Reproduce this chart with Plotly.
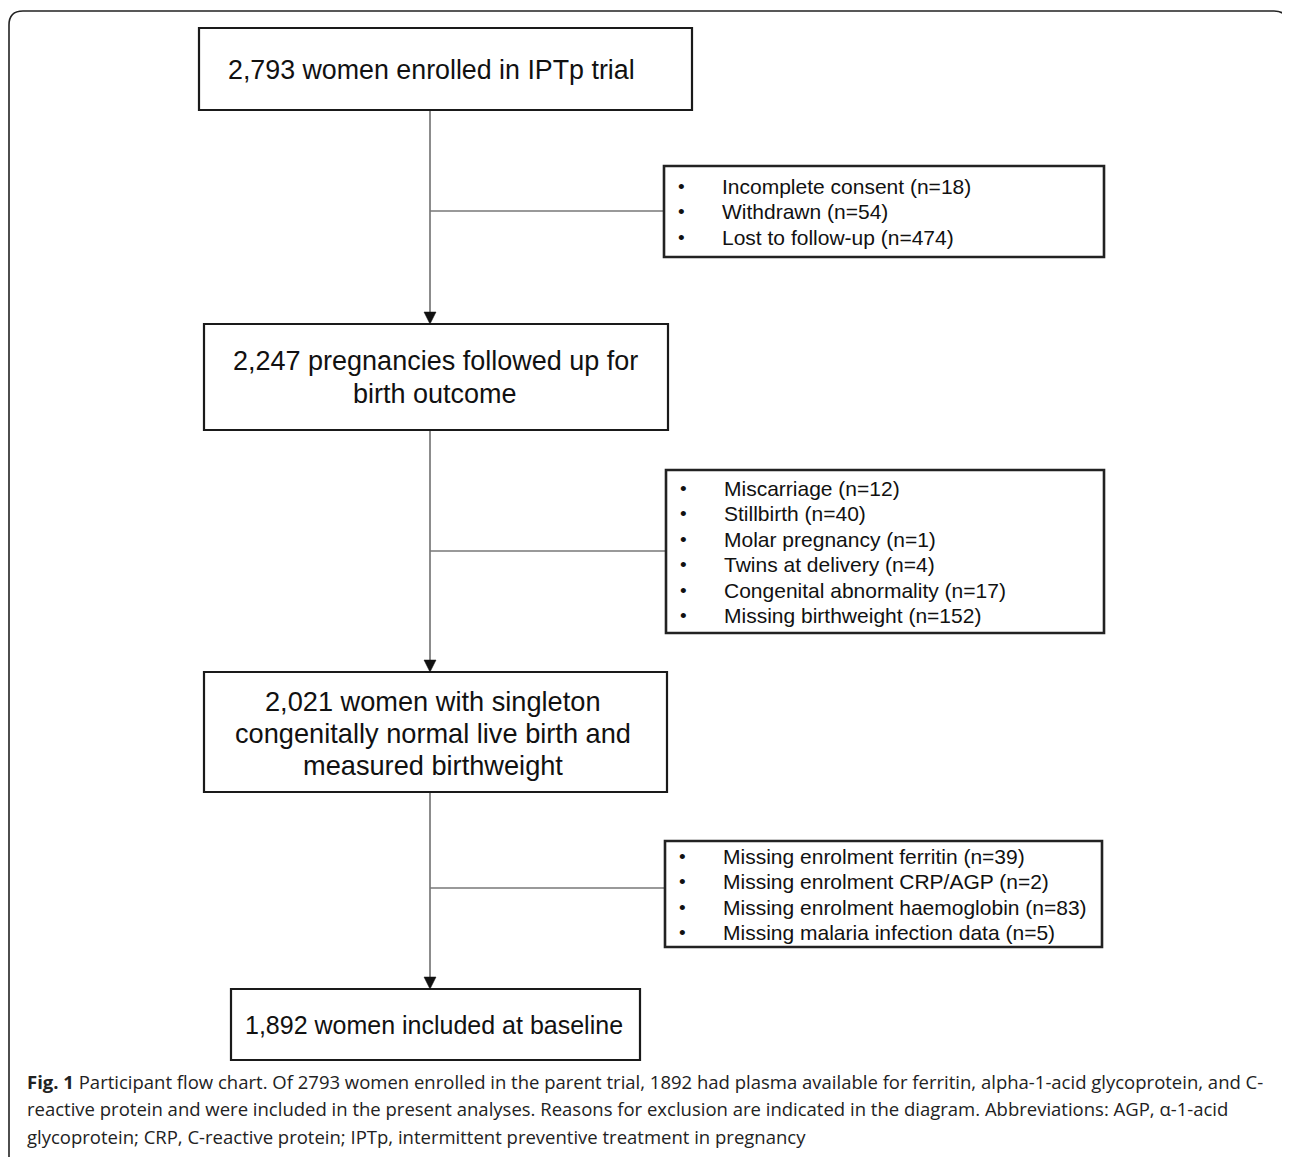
import plotly.graph_objects as go

PAGE_W, PAGE_H = 1290, 1157
OFF = 8  # default page body margin

# ---- content ----
main_boxes = [
    ["2,793 women enrolled in IPTp trial"],
    ["2,247 pregnancies followed up for", "birth outcome"],
    ["2,021 women with singleton", "congenitally normal live birth and", "measured birthweight"],
    ["1,892 women included at baseline"],
]
exclusions_1 = ["Incomplete consent (n=18)", "Withdrawn (n=54)", "Lost to follow-up (n=474)"]
exclusions_2 = ["Miscarriage (n=12)", "Stillbirth (n=40)", "Molar pregnancy (n=1)",
                "Twins at delivery (n=4)", "Congenital abnormality (n=17)",
                "Missing birthweight (n=152)"]
exclusions_3 = ["Missing enrolment ferritin (n=39)", "Missing enrolment CRP/AGP (n=2)",
                "Missing enrolment haemoglobin (n=83)", "Missing malaria infection data (n=5)"]
caption_lines = [
    "<b>Fig. 1</b> Participant flow chart. Of 2793 women enrolled in the parent trial, 1892 had plasma available for ferritin, alpha-1-acid glycoprotein, and C-",
    "reactive protein and were included in the present analyses. Reasons for exclusion are indicated in the diagram. Abbreviations: AGP, \u03b1-1-acid",
    "glycoprotein; CRP, C-reactive protein; IPTp, intermittent preventive treatment in pregnancy",
]

# ---- layout geometry (page pixels) ----
main_geom = [  # x0, x1, y0, y1, text centre x, first line y, line step, font size
    (199, 692, 28, 110, 431, 70, 0, 26.8),
    (204, 668, 324, 430, 435, 361, 33, 27),
    (204, 667, 672, 792, 433, 701, 32, 27.2),
    (231, 640, 989, 1060, 434, 1025, 0, 25),
]
side_geom = [  # x0, x1, y0, y1, first line y, step, connector y
    (664, 1104, 166, 257, 186, 25.6, 211),
    (666, 1104, 470, 633, 488.5, 25.4, 551),
    (665, 1102, 841, 947, 856, 25.6, 888),
]
side_lists = [exclusions_1, exclusions_2, exclusions_3]
spine_x = 430
FONT = "Liberation Sans"

shapes = []
annotations = []

# outer frame with rounded top corners
r = 14
frame_path = (f"M 9,{PAGE_H+5} L 9,{11+r} Q 9,11 {9+r},11 L {1288-r},11 "
              f"Q 1288,11 1288,{11+r} L 1288,{PAGE_H+5}")
shapes.append(dict(type="path", path=frame_path, xref="x", yref="y",
                   line=dict(color="#222222", width=1.6)))

# main boxes
for lines, (x0, x1, y0, y1, tx, ly, step, fs) in zip(main_boxes, main_geom):
    shapes.append(dict(type="rect", x0=x0, x1=x1, y0=y0, y1=y1, xref="x", yref="y",
                       line=dict(color="#1a1a1a", width=2.2), fillcolor="white", layer="above"))
    for i, t in enumerate(lines):
        annotations.append(dict(x=tx, y=ly + i * step, xref="x", yref="y",
                                text=t, showarrow=False, xanchor="center", yanchor="middle",
                                font=dict(family=FONT, size=fs, color="#111111")))

# vertical arrows between main boxes
for a, b in zip(main_geom[:-1], main_geom[1:]):
    y_start = a[3]
    y_end = b[2]
    shapes.append(dict(type="line", x0=spine_x, x1=spine_x, y0=y_start, y1=y_end - 11,
                       xref="x", yref="y", line=dict(color="#666666", width=1.5), layer="below"))
    shapes.append(dict(type="path", xref="x", yref="y",
                       path=f"M {spine_x-6},{y_end-12} L {spine_x+6},{y_end-12} L {spine_x},{y_end} Z",
                       fillcolor="#111111", line=dict(color="#111111", width=0.5)))

# side exclusion boxes
for items, (x0, x1, y0, y1, ly, step, cy) in zip(side_lists, side_geom):
    shapes.append(dict(type="line", x0=spine_x, x1=x0, y0=cy, y1=cy, xref="x", yref="y",
                       line=dict(color="#777777", width=1.3), layer="below"))
    shapes.append(dict(type="rect", x0=x0, x1=x1, y0=y0, y1=y1, xref="x", yref="y",
                       line=dict(color="#222222", width=2.6), fillcolor="white", layer="below"))
    for i, t in enumerate(items):
        y = ly + i * step
        annotations.append(dict(x=x0 + 17, y=y, xref="x", yref="y", text="\u2022",
                                showarrow=False, xanchor="center", yanchor="middle",
                                font=dict(family=FONT, size=19, color="#111111")))
        annotations.append(dict(x=x0 + 56, y=y, xref="x", yref="y", text=t,
                                showarrow=False, xanchor="left", yanchor="middle",
                                font=dict(family=FONT, size=21, color="#111111")))

# caption
for i, t in enumerate(caption_lines):
    annotations.append(dict(x=25, y=1081 + i * 27.5, xref="x", yref="y", text=t,
                            showarrow=False, xanchor="left", yanchor="middle",
                            font=dict(family="Open Sans", size=18.5, color="#222222")))

fig = go.Figure()
fig.update_layout(
    width=PAGE_W - OFF, height=PAGE_H - OFF,
    margin=dict(l=0, r=0, t=0, b=0),
    paper_bgcolor="white", plot_bgcolor="white",
    xaxis=dict(range=[OFF, PAGE_W], visible=False, fixedrange=True),
    yaxis=dict(range=[PAGE_H, OFF], visible=False, fixedrange=True),
    shapes=shapes, annotations=annotations, showlegend=False,
)
fig.write_html("out.html")
